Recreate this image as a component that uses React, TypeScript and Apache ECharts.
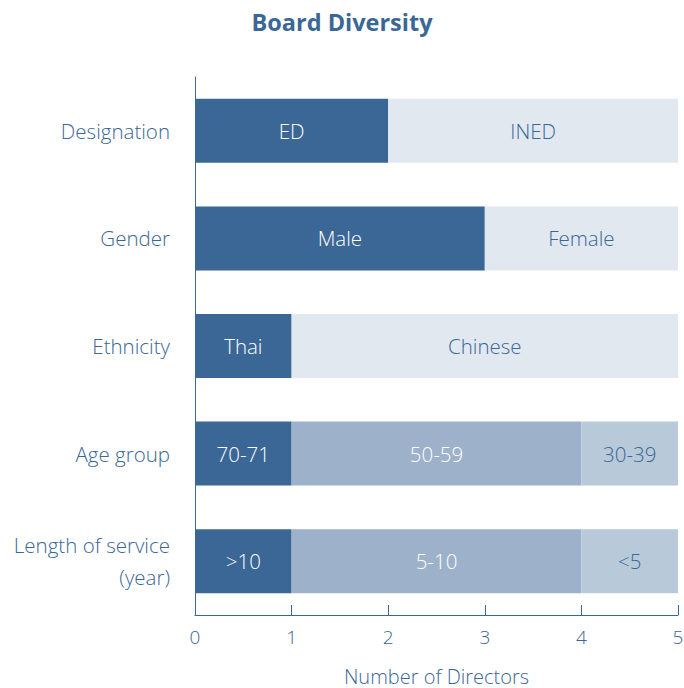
import React, { useEffect, useRef } from "react";
import * as echarts from "echarts";

const categories = ["Designation", "Gender", "Ethnicity", "Age group", "Length of service\n(year)"];
const seg1Names = ["ED", "Male", "Thai", "70-71", ">10"];
const seg1Values = [2, 3, 1, 1, 1];
const seg2Names = ["INED", "Female", "Chinese", "50-59", "5-10"];
const seg2Values = [3, 2, 4, 3, 3];
const seg3Names = ["", "", "", "30-39", "<5"];
const seg3Values: (number | null)[] = [null, null, null, 1, 1];
const xTicks = [0, 1, 2, 3, 4, 5];

const DARK = "#3a6795";
const LIGHT = "#e1e8f0";
const MID = "#9db2ca";
const PALE = "#b8c9da";
const FONT = "Open Sans";
const W = 300;
const FS = 20.5;

export default function App() {
  const ref = useRef<HTMLDivElement>(null);
  useEffect(() => {
    if (!ref.current) return;
    const chart = echarts.init(ref.current, undefined, { renderer: "svg" });
    const seg2Colors = [LIGHT, LIGHT, LIGHT, MID, MID];
    const seg2Text = [DARK, DARK, DARK, "#ffffff", "#ffffff"];
    chart.setOption({
      animation: false,
      title: {
        text: "Board Diversity",
        left: "center",
        top: 5,
        textStyle: { color: DARK, fontSize: 23.5, fontWeight: "bold", fontFamily: FONT },
      },
      grid: { left: 195, right: 6, top: 77, bottom: 73, containLabel: false, outerBoundsMode: "none" },
      xAxis: {
        type: "value",
        min: xTicks[0],
        max: xTicks[xTicks.length - 1],
        interval: 1,
        name: "Number of Directors",
        nameLocation: "middle",
        nameGap: 51,
        nameTextStyle: { color: DARK, fontSize: 20, lineHeight: 20, fontFamily: FONT, fontWeight: W },
        axisLine: { show: true, lineStyle: { color: DARK, width: 1 } },
        axisTick: { show: true, inside: true, length: 10, lineStyle: { color: DARK } },
        axisLabel: { color: DARK, fontSize: 19, fontFamily: FONT, fontWeight: W, margin: 12 },
        splitLine: { show: false },
      },
      yAxis: {
        type: "category",
        data: categories,
        inverse: true,
        axisLine: { show: true, lineStyle: { color: DARK, width: 1 } },
        axisTick: { show: false },
        axisLabel: {
          color: DARK,
          fontSize: FS,
          fontFamily: FONT,
          fontWeight: W,
          margin: 25,
          lineHeight: 32,
          align: "right",
        },
      },
      series: [
        {
          type: "bar",
          stack: "total",
          barWidth: 64,
          data: seg1Values.map((v) => ({ value: v, itemStyle: { color: DARK } })),
          label: {
            show: true,
            position: "inside",
            color: "#ffffff",
            fontSize: FS,
            fontFamily: FONT,
            fontWeight: W,
            formatter: (p: any) => seg1Names[p.dataIndex],
          },
        },
        {
          type: "bar",
          stack: "total",
          barWidth: 64,
          data: seg2Values.map((v, i) => ({
            value: v,
            itemStyle: { color: seg2Colors[i] },
            label: { color: seg2Text[i] },
          })),
          label: {
            show: true,
            position: "inside",
            fontSize: FS,
            fontFamily: FONT,
            fontWeight: W,
            formatter: (p: any) => seg2Names[p.dataIndex],
          },
        },
        {
          type: "bar",
          stack: "total",
          barWidth: 64,
          data: seg3Values.map((v) => ({ value: v, itemStyle: { color: PALE } })),
          label: {
            show: true,
            position: "inside",
            color: DARK,
            fontSize: FS,
            fontFamily: FONT,
            fontWeight: W,
            formatter: (p: any) => seg3Names[p.dataIndex],
          },
        },
      ],
    });
    return () => chart.dispose();
  }, []);
  return <div ref={ref} style={{ width: 684, height: 688, position: "absolute", left: 0, top: 0 }} />;
}
